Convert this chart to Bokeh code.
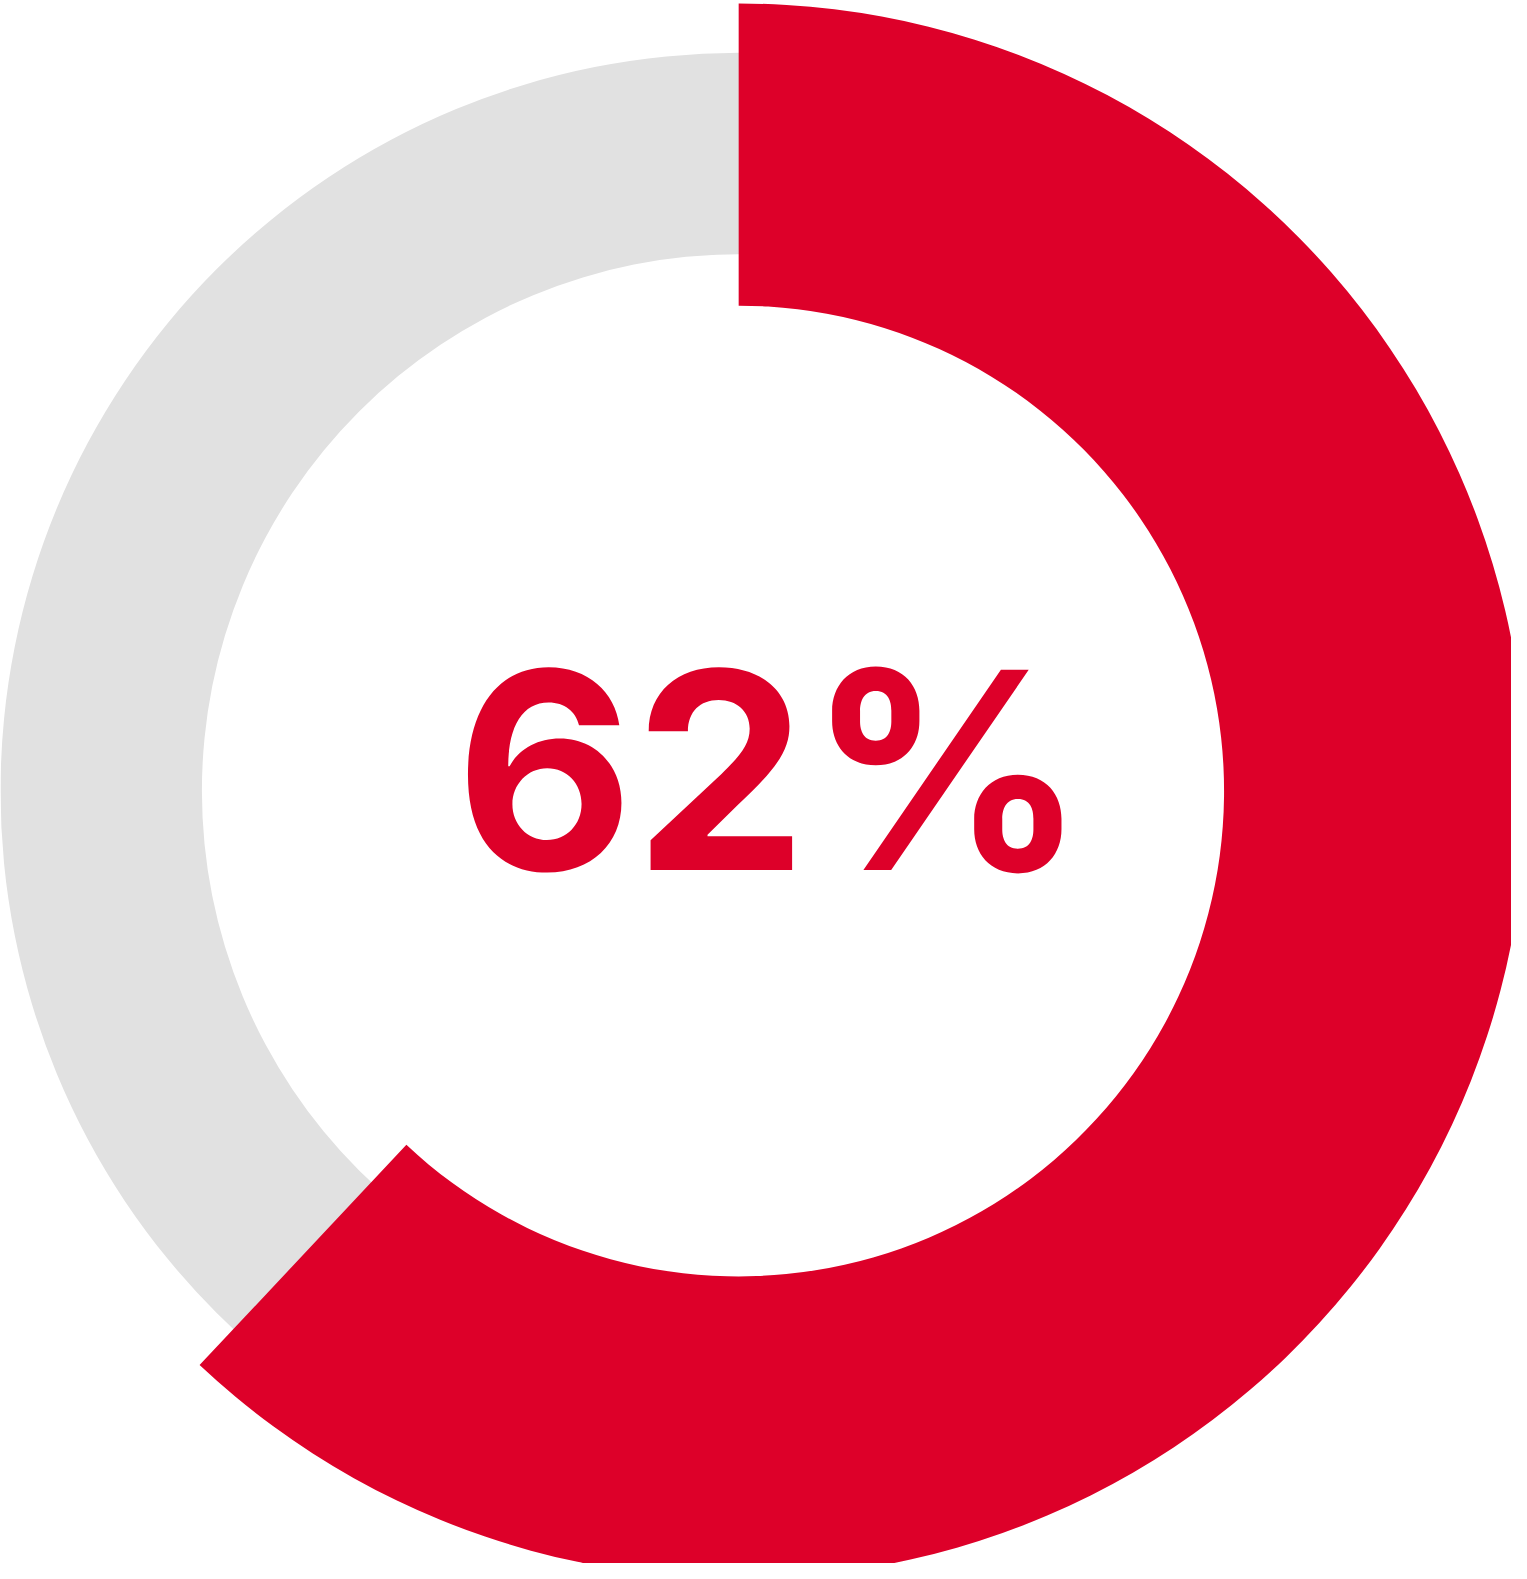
import math
from bokeh.plotting import figure
from bokeh.models import Range1d
from bokeh.embed import file_html
from bokeh.resources import INLINE
from bokeh.core.properties import value

# ---- data ----
categories = ["Share", "Remainder"]
values = [62, 38]
label_text = "62%"

# ---- style ----
RED = "#DD0029"
GREY = "#E1E1E1"

W, H = 1511, 1563
S = 0.993  # data units per screen pixel
p = figure(width=W, height=H, output_backend="svg", toolbar_location=None,
           x_range=Range1d(0, W * S), y_range=Range1d(-H * S, 0),
           min_border=0, background_fill_color="white", border_fill_color="white")
p.axis.visible = False
p.grid.visible = False
p.outline_line_color = None

cx, cy = 733, -785

# background track (full ring)
p.annulus(x=[cx], y=[cy], inner_radius=533, outer_radius=733,
          fill_color=GREY, line_color=None)

# value segment: clockwise from top
frac = values[0] / sum(values)
start = math.pi / 2 - 2 * math.pi * frac
end = math.pi / 2
p.annular_wedge(x=[cx], y=[cy], inner_radius=482, outer_radius=782,
                start_angle=[start], end_angle=[end],
                fill_color=RED, line_color=None)

p.text(x=[765], y=[-764], text=[label_text], text_align="center",
       text_baseline="alphabetic", text_color=RED,
       text_font=value("Inter"), text_font_style="bold",
       text_font_size="275px")

open("out.html", "w").write(file_html(p, INLINE))
